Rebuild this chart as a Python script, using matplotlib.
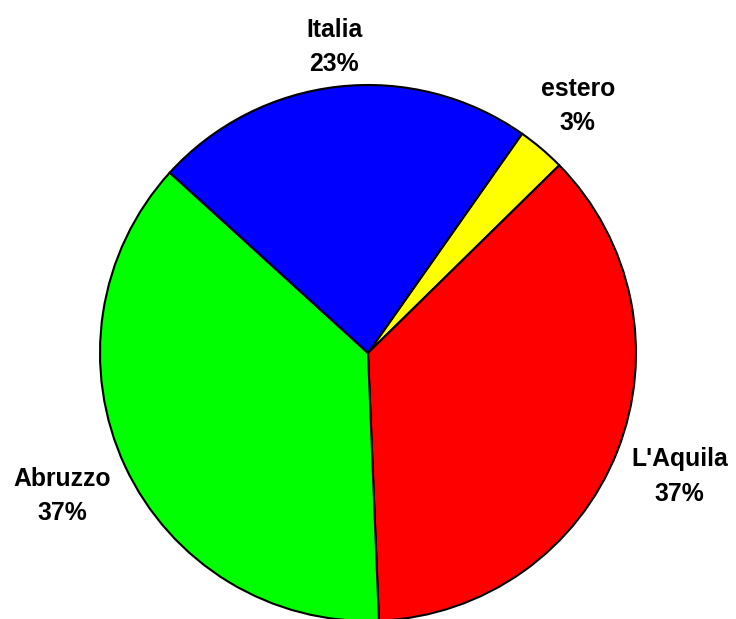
import numpy as np
import matplotlib
matplotlib.use('Agg')
import matplotlib.pyplot as plt

labels = ['estero', "L'Aquila", 'Abruzzo', 'Italia']
values = [2.9, 36.7, 37.4, 23.0]
colors = ['#ffff00', '#ff0000', '#00ff00', '#0000ff']

plt.rcParams['font.family'] = ['Liberation Sans', 'DejaVu Sans']

fig = plt.figure(figsize=(7.36, 6.19), dpi=100)
ax = fig.add_axes([0, 0, 1, 1])

r_px = 268.0
cx, cy = 368.0, 619.0 - 353.0

wedges, texts = ax.pie(values, colors=colors, startangle=54.9, counterclock=False,
                       radius=1.0, wedgeprops=dict(edgecolor='black', linewidth=1.5),
                       labels=[f"{l}\n{round(v):.0f}%" for l, v in zip(labels, values)],
                       textprops=dict(fontsize=17.8, fontweight='bold', linespacing=1.55,
                                      va='center', multialignment='center'))

# label distance from centre, per slice (Excel style placement)
label_dist = [1.21, 1.25, 1.26, 1.148]
for w, t, d in zip(wedges, texts, label_dist):
    ang = np.deg2rad((w.theta1 + w.theta2) / 2)
    t.set_position((d * np.cos(ang), d * np.sin(ang)))
    t.set_horizontalalignment('center')
    t.set_verticalalignment('center')

ax.set_xlim(-cx / r_px, (736 - cx) / r_px)
ax.set_ylim(-cy / r_px, (619 - cy) / r_px)
ax.set_aspect('equal')
ax.axis('off')

fig.savefig('out.png', dpi=100)
